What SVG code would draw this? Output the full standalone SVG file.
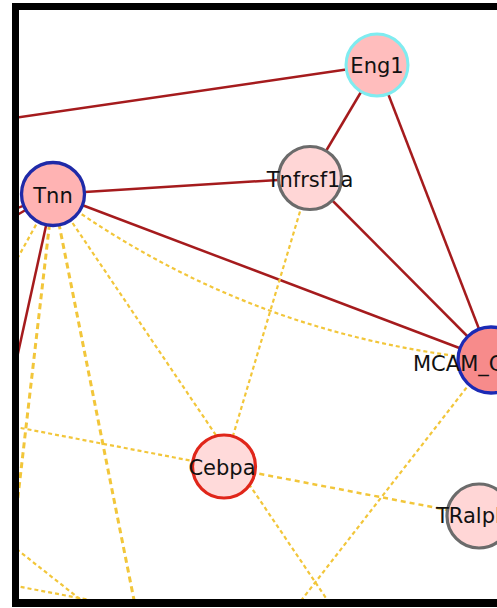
<svg xmlns="http://www.w3.org/2000/svg" width="497" height="608" viewBox="0 0 497 608">
<style>
.red{stroke:#a51b1d;stroke-width:2.5;fill:none}
.dash{stroke:#f2c63a;stroke-width:2.2;stroke-dasharray:4 3;fill:none}
.dashT{stroke:#f2c63a;stroke-width:3;stroke-dasharray:6 4;fill:none}
.lbl{font-family:"DejaVu Sans",sans-serif;font-size:21px;fill:#111}
.c{text-anchor:middle}
</style>
<defs>
<clipPath id="area"><rect x="19" y="10" width="478" height="589"/></clipPath>
</defs>
<rect x="0" y="0" width="497" height="608" fill="#fff"/>
<g id="connectors" clip-path="url(#area)">
<line class="red" x1="0" y1="120" x2="377" y2="65"/>
<line class="red" x1="53" y1="194" x2="310" y2="178"/>
<line class="red" x1="53" y1="194" x2="491" y2="360"/>
<line class="red" x1="377" y1="65" x2="310" y2="178"/>
<line class="red" x1="377" y1="65" x2="491" y2="360"/>
<line class="red" x1="310" y1="178" x2="491" y2="360"/>
<line class="red" x1="53" y1="194" x2="0" y2="435"/>
<line class="red" x1="53" y1="194" x2="0" y2="215"/>
<line class="red" x1="53" y1="194" x2="0" y2="225"/>
<line class="dash" x1="53" y1="194" x2="330" y2="604"/>
<path class="dash" d="M53,194 Q248,337 491,360"/>
<line class="dashT" x1="53" y1="194" x2="6" y2="600"/>
<line class="dashT" x1="53" y1="194" x2="136" y2="610"/>
<line class="dash" x1="53" y1="194" x2="0" y2="290"/>
<line class="dash" x1="310" y1="178" x2="224" y2="466"/>
<line class="dash" x1="0" y1="424" x2="224" y2="467"/>
<line class="dashT" x1="224" y1="467" x2="479" y2="516" style="stroke-width:2.5;stroke-dasharray:5 4"/>
<line class="dash" x1="488" y1="360" x2="300" y2="602"/>
<line class="dash" x1="0" y1="536" x2="100" y2="615"/>
<line class="dash" x1="0" y1="583" x2="100" y2="602"/>
</g>
<g id="Eng1">
<circle cx="377" cy="65" r="31" fill="#ffbdbd" stroke="#7fecf0" stroke-width="3"/>
<text class="lbl c" x="377" y="73">Eng1</text>
</g>
<g id="Tnfrsf1a">
<circle cx="310" cy="178" r="31.5" fill="#ffd6d6" stroke="#6b6b6b" stroke-width="3.2"/>
<text class="lbl c" x="310" y="187">Tnfrsf1a</text>
</g>
<g id="Tnn">
<circle cx="53" cy="194" r="31.5" fill="#ffb3b3" stroke="#1f2aa8" stroke-width="3.3"/>
<text class="lbl c" x="53" y="203">Tnn</text>
</g>
<g id="MCAM">
<circle cx="491" cy="360" r="33" fill="#f78b8b" stroke="#1b2ab5" stroke-width="3.3"/>
<text class="lbl" x="413" y="371">MCAM_C</text>
</g>
<g id="Cebpa">
<circle cx="224" cy="466.5" r="31.5" fill="#ffdada" stroke="#e0261a" stroke-width="3.2"/>
<text class="lbl c" x="222" y="475">Cebpa</text>
</g>
<g id="TRalph">
<circle cx="479" cy="516" r="32" fill="#ffd6d6" stroke="#6b6b6b" stroke-width="3.2"/>
<text class="lbl" x="436" y="523">TRalph</text>
</g>
<g id="frame" fill="#000">
<rect x="12" y="3" width="485" height="7"/>
<rect x="12" y="3" width="7" height="604"/>
<rect x="12" y="599" width="485" height="8"/>
</g>
</svg>
